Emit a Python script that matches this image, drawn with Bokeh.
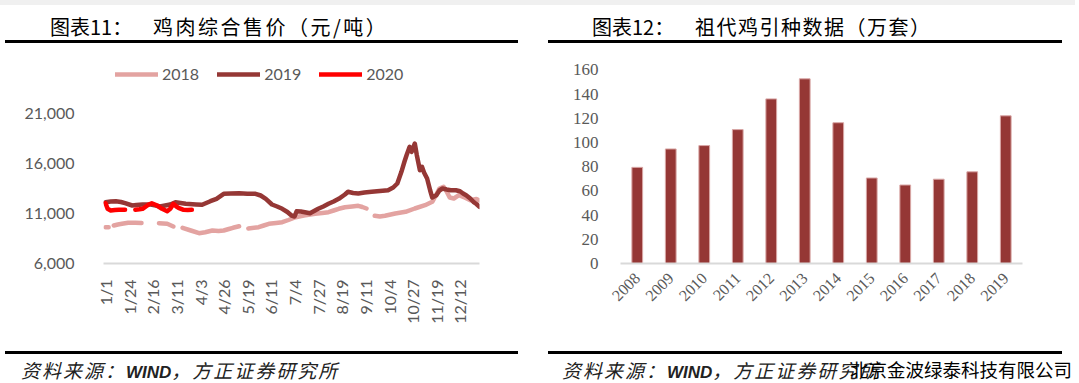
import numpy as np
from math import pi
from bokeh.plotting import figure
from bokeh.models import (Range1d, FactorRange, FixedTicker, NumeralTickFormatter,
                          Legend, LegendItem, Div)
from bokeh.layouts import row, column
from bokeh.embed import file_html
from bokeh.resources import INLINE

nan = np.nan

# ---------------- left chart data: 鸡肉综合售价 (元/吨), x = day of year ----------------
tick_days = [0, 23, 46, 69, 92, 115, 138, 161, 184, 207, 230, 253, 276, 299, 322, 345]
tick_labels = ["1/1", "1/24", "2/16", "3/11", "4/3", "4/26", "5/19", "6/11", "7/4",
               "7/27", "8/19", "9/11", "10/4", "10/27", "11/19", "12/12"]
y_ticks_left = [6000, 11000, 16000, 21000]

day_2018 = [0, 3, 5, 8, 12, 16, 22, 29, 35, 43, 52, 60, 66, 70, 75, 83, 91, 97, 104, 110,
            115, 120, 124, 130, 134, 139, 149, 154, 159, 166, 172, 178, 185, 193, 204, 211,
            217, 222, 227, 233, 240, 246, 250, 254, 258, 262, 267, 272, 282, 292, 301, 311,
            318, 322, 325, 329, 332, 335, 339, 344, 350, 355, 361, 364]
val_2018 = [9630, 9630, nan, 9800, 9900, 9970, 10070, 10070, 10050, nan, 10030, 9970, 9700,
            nan, 9570, 9300, 9030, 9130, 9300, 9250, 9300, 9450, 9570, 9730, nan, 9500, 9630,
            9800, 9970, 10050, 10130, 10350, 10630, 10800, 10970, 11050, 11130, 11300, 11470,
            11630, 11700, 11770, 11650, 11500, nan, 10770, 10700, 10770, 11000, 11170, 11500,
            11830, 12170, 12900, 13500, 13670, 13200, 12600, 12500, 12830, 12570, 12330,
            12450, 12300]

day_2019 = [0, 5, 10, 15, 19, 26, 30, 36, 44, 49, 53, 58, 63, 68, 73, 78, 88, 94, 98, 102,
            108, 115, 122, 130, 138, 146, 151, 156, 162, 167, 172, 177, 181, 184, 186, 190,
            194, 199, 203, 207, 212, 217, 222, 227, 233, 236, 241, 246, 252, 259, 267, 275,
            280, 284, 288, 291, 293, 296, 298, 301, 303, 306, 308, 310, 313, 316, 318, 322,
            325, 328, 332, 336, 341, 345, 348, 351, 355, 358, 361, 364]
val_2019 = [12130, 12200, 12230, 12150, 12030, 11800, 11850, 11900, 11900, 11800, 11700,
            11800, 11900, 12130, 12050, 11970, 11900, 11870, 12050, 12230, 12470, 12970,
            13000, 13030, 12980, 12970, 12800, 12470, 11900, 11700, 11470, 11150, 10800,
            10700, 11230, 11200, 11130, 11030, 11250, 11470, 11700, 11970, 12200, 12470,
            12900, 13170, 13050, 13000, 13100, 13170, 13250, 13330, 13600, 14000, 15170,
            16200, 16830, 17670, 17170, 18000, 16830, 15330, 15670, 15100, 14500, 13300,
            12600, 12830, 13300, 13500, 13400, 13330, 13330, 13230, 13000, 12830, 12500,
            12170, 11950, 11670]

day_2020 = [0, 2, 5, 9, 13, 19, 24, 29, 33, 36, 40, 42, 45, 48, 50, 55, 60, 63, 66, 69, 71,
            76, 80, 84]
val_2020 = [12030, 11470, 11300, 11350, 11370, 11370, nan, 11370, 11420, 11470, 11750, 11900,
            12030, 11900, 11800, 11470, 11230, 11470, 11970, 11700, 11570, 11370, 11350, 11370]

# ---------------- right chart data: 祖代鸡引种数据 (万套) ----------------
years = ["2008", "2009", "2010", "2011", "2012", "2013", "2014", "2015", "2016", "2017",
         "2018", "2019"]
imports = [79.5, 94.7, 97.5, 110.7, 136.1, 152.7, 116.4, 70.7, 64.9, 69.7, 75.8, 122.1]
y_ticks_right = [0, 20, 40, 60, 80, 100, 120, 140, 160]

GRAY = "#595959"
C2018, C2019, C2020 = "#e3a3a1", "#953735", "#ff0000"

# ---------------- left figure ----------------
p1 = figure(width=540, height=296, x_range=Range1d(-2, 364), y_range=Range1d(6000, 26500),
            output_backend="svg", toolbar_location=None, title=None,
            min_border_left=103, min_border_right=61, min_border_top=14, min_border_bottom=77)
p1.outline_line_color = None
p1.background_fill_color = None
p1.border_fill_color = None
p1.xgrid.visible = False
p1.ygrid.visible = False

r18 = p1.line(np.array(day_2018, float), np.array(val_2018, float), line_color=C2018,
              line_width=4.5, line_cap="round", line_join="round")
r19 = p1.line(np.array(day_2019, float), np.array(val_2019, float), line_color=C2019,
              line_width=4.5, line_cap="round", line_join="round")
r20 = p1.line(np.array(day_2020, float), np.array(val_2020, float), line_color=C2020,
              line_width=4.5, line_cap="round", line_join="round")

ya = p1.yaxis[0]
ya.ticker = FixedTicker(ticks=y_ticks_left)
ya.formatter = NumeralTickFormatter(format="0,0")
ya.axis_line_color = None
ya.major_tick_line_color = None
ya.minor_tick_line_color = None
ya.major_label_standoff = 23
ya.major_label_text_font = "Lato"
ya.major_label_text_font_size = "16px"
ya.major_label_text_color = GRAY

xa = p1.xaxis[0]
xa.ticker = FixedTicker(ticks=tick_days)
xa.major_label_overrides = {d: l for d, l in zip(tick_days, tick_labels)}
xa.major_label_orientation = pi / 2
xa.axis_line_color = "#d9d9d9"
xa.axis_line_width = 2
xa.major_tick_line_color = None
xa.minor_tick_line_color = None
xa.major_label_standoff = 10
xa.major_label_text_font = "Lato"
xa.major_label_text_font_size = "16px"
xa.major_label_text_color = GRAY

legend = Legend(items=[LegendItem(label="2018", renderers=[r18]),
                       LegendItem(label="2019", renderers=[r19]),
                       LegendItem(label="2020", renderers=[r20])],
                location=(12, 180), orientation="horizontal",
                glyph_width=43, glyph_height=16, label_standoff=4, spacing=18,
                padding=0, margin=0, border_line_color=None, background_fill_alpha=0,
                label_text_font="Lato", label_text_font_size="16px",
                label_text_color=GRAY)
p1.add_layout(legend)

# ---------------- right figure ----------------
p2 = figure(width=535, height=296, x_range=FactorRange(factors=years),
            y_range=Range1d(0, 169.5), output_backend="svg", toolbar_location=None,
            title=None, min_border_left=80, min_border_right=53, min_border_top=14,
            min_border_bottom=63)
p2.outline_line_color = None
p2.background_fill_color = None
p2.border_fill_color = None
p2.xgrid.visible = False
p2.ygrid.visible = False
p2.vbar(x=years, top=imports, width=0.32, fill_color="#953735", line_color="#d9a7a6",
        line_width=1)

ya2 = p2.yaxis[0]
ya2.ticker = FixedTicker(ticks=y_ticks_right)
ya2.axis_line_color = None
ya2.major_tick_line_color = None
ya2.minor_tick_line_color = None
ya2.major_label_standoff = 16
ya2.major_label_text_font = "Liberation Serif"
ya2.major_label_text_font_size = "17px"
ya2.major_label_text_color = GRAY

xa2 = p2.xaxis[0]
xa2.axis_line_color = "#d9d9d9"
xa2.axis_line_width = 2
xa2.major_tick_line_color = None
xa2.minor_tick_line_color = None
xa2.major_label_orientation = pi / 4
xa2.major_label_standoff = 6
xa2.major_label_text_font = "Liberation Serif"
xa2.major_label_text_font_size = "16px"
xa2.major_label_text_color = GRAY

# ---------------- titles / footers ----------------
title_left_a, title_left_b = "图表11：", "鸡肉综合售价（元/吨）"
title_right_a, title_right_b = "图表12：", "祖代鸡引种数据（万套）"
src_a, src_b, src_c = "资料来源：", "WIND", "，方正证券研究所"
watermark = "北京金波绿泰科技有限公司"

F = "font-family:'Noto Sans CJK SC','Noto Sans';"
T = "position:absolute;white-space:nowrap;"

top_html = f"""
<div style="position:relative;width:1075px;height:44px;{F}color:#000;">
  <div style="position:absolute;left:0px;top:0px;width:1075px;height:5px;background:#f0f0f0;"></div>
  <div style="position:absolute;left:5px;top:40px;width:513px;height:3px;background:#000;"></div>
  <div style="position:absolute;left:548px;top:40px;width:514px;height:3px;background:#000;"></div>
  <span style="{T}left:50px;top:15px;font-size:20px;line-height:24px;">{title_left_a}</span>
  <span style="{T}left:153px;top:15px;font-size:20px;line-height:24px;letter-spacing:2.5px;">{title_left_b}</span>
  <span style="{T}left:592px;top:15px;font-size:20px;line-height:24px;">{title_right_a}</span>
  <span style="{T}left:695px;top:15px;font-size:20px;line-height:24px;letter-spacing:1.5px;">{title_right_b}</span>
</div>"""

def src(left):
    return (f'<span style="{T}left:{left}px;top:20px;font-size:19px;line-height:20px;'
            f'font-style:italic;color:#222;letter-spacing:2px;">{src_a}'
            f'<b style="font-family:\'Liberation Sans\';font-size:17px;letter-spacing:0px;">{src_b}</b>'
            f'{src_c}</span>')

foot_html = f"""
<div style="position:relative;width:1075px;height:42px;{F}color:#000;">
  <div style="position:absolute;left:5px;top:11px;width:513px;height:3px;background:#000;"></div>
  <div style="position:absolute;left:548px;top:11px;width:514px;height:3px;background:#000;"></div>
  {src(21)}
  {src(562)}
  <span style="{T}left:850px;top:19px;font-size:18.5px;line-height:20px;color:#000;">{watermark}</span>
</div>"""

top_div = Div(text=top_html, width=1075, height=44, margin=0)
foot_div = Div(text=foot_html, width=1075, height=42, margin=0)

layout = column(top_div, row(p1, p2, spacing=0), foot_div, spacing=0)

with open("out.html", "w") as f:
    f.write(file_html(layout, INLINE))
